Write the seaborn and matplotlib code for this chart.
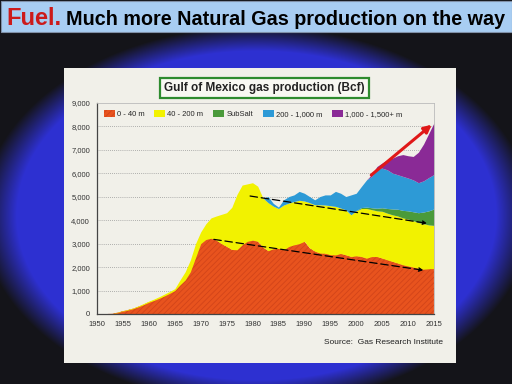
import numpy as np
import matplotlib.pyplot as plt
import seaborn as sns
from matplotlib.patches import Rectangle

# Gulf of Mexico gas production (Bcf) by water depth
years = list(range(1950, 2016))
depth_0_40 = [0, 0, 0, 10, 60, 120, 170, 230, 310, 400,
              500, 580, 670, 770, 880, 1000, 1240, 1450, 1800, 2400,
              3000, 3180, 3230, 3150, 3000, 2880, 2750, 2740, 2950, 3100,
              3150, 3100, 2850, 2700, 2780, 2800, 2740, 2880, 2950, 3000,
              3100, 2820, 2680, 2600, 2590, 2530, 2520, 2580, 2520, 2450,
              2480, 2450, 2380, 2450, 2450, 2380, 2310, 2240, 2170, 2100,
              2050, 2000, 1950, 1910, 1930, 1940]
depth_40_200 = [0, 0, 0, 10, 20, 20, 30, 30, 40, 50,
                50, 60, 70, 80, 80, 80, 210, 350, 500, 600,
                500, 670, 870, 1030, 1250, 1440, 1800, 2360, 2550, 2450,
                2450, 2350, 2100, 2050, 1820, 1700, 1910, 1850, 1850, 1850,
                1720, 1930, 1980, 2060, 2060, 2090, 2070, 1940, 1920, 1780,
                1920, 2050, 2120, 2000, 1950, 2000, 1990, 1990, 2010, 2000,
                2000, 1980, 1950, 1940, 1870, 1840]
subsalt = [0] * 50 + [20, 40, 60, 80, 110, 150, 200, 250, 290, 320,
                      350, 380, 420, 500, 600, 700]
depth_200_1000 = [0] * 33 + [260, 120, 60, 220, 280, 280, 380,
                             330, 260, 210, 350, 430, 460, 640, 630, 570, 850,
                             730, 900, 1160, 1340, 1710, 1690, 1650, 1530, 1470, 1450,
                             1400, 1360, 1280, 1330, 1420, 1470]
depth_1000_1500 = [0] * 53 + [80, 70, 220, 430, 640, 810, 930,
                              950, 1000, 1300, 1570, 1880, 2200]

labels = ['0 - 40 m', '40 - 200 m', 'SubSalt', '200 - 1,000 m', '1,000 - 1,500+ m']
colors = ['#e8531e', '#f2f200', '#4a9a3a', '#2d9ad6', '#8a2a96']

sns.set_style('white')
plt.rcParams['font.family'] = ['Liberation Sans', 'DejaVu Sans']
plt.rcParams['hatch.linewidth'] = 0.6

fig = plt.figure(figsize=(5.12, 3.84), dpi=100)

# slide background: dark with a blue glow, title bar and the chart card
bg = fig.add_axes([0, 0, 1, 1])
bg.set_xlim(0, 512)
bg.set_ylim(384, 0)
bg.axis('off')
yy, xx = np.mgrid[0:384, 0:512]
d = np.sqrt(((xx - 256) / 255.0) ** 2 + ((yy - 215) / 175.0) ** 2)
t = np.clip((1.08 - d) / 0.14, 0, 1)
dark = np.array([0.08, 0.08, 0.10])
blue = np.array([0.18, 0.19, 0.82])
bg.imshow(dark + (blue - dark) * t[..., None], extent=[0, 512, 384, 0], aspect='auto')
bg.add_patch(Rectangle((0.5, 0.5), 511, 31.5, facecolor='#a8cdf2', edgecolor='#8090a8', lw=0.8))
bg.add_patch(Rectangle((64, 68), 392, 295, facecolor='#f1f0e9', edgecolor='none'))
bg.text(6, 25, 'Fuel.', color='#cc1a1a', fontsize=17, fontweight='bold', va='baseline')
bg.text(66, 25, 'Much more Natural Gas production on the way', color='black',
        fontsize=14.2, fontweight='bold', va='baseline')

# the chart itself
ax = fig.add_axes([0.1895, 0.1823, 0.658, 0.5495])
ax.set_facecolor('#f1f0e9')
polys = ax.stackplot(years, depth_0_40, depth_40_200, subsalt, depth_200_1000,
                     depth_1000_1500, labels=labels, colors=colors, lw=0)
polys[0].set_hatch('//////')
polys[0].set_edgecolor('#d2441a')

ax.set_xlim(1950, 2015)
ax.set_ylim(0, 9000)
ax.set_xticks(range(1950, 2016, 5))
ax.set_yticks(range(0, 9001, 1000))
ax.set_yticklabels([f'{v:,}' for v in range(0, 9001, 1000)])
ax.tick_params(labelsize=5.5, colors='#333333', length=3, width=0.8, pad=2)
for y in range(1000, 9000, 1000):
    ax.axhline(y, color='#999999', lw=0.6, ls=(0, (1, 1.5)), zorder=0)
for side in ['left', 'bottom']:
    ax.spines[side].set_color('#444444')
    ax.spines[side].set_linewidth(0.9)
for side in ['top', 'right']:
    ax.spines[side].set_color('#bbbbbb')
    ax.spines[side].set_linewidth(0.6)

ax.legend(ncol=5, loc='upper left', frameon=False, fontsize=5.5, handlelength=1.4,
          handleheight=1.1, columnspacing=1.3, handletextpad=0.3,
          bbox_to_anchor=(0.0, 1.0))

# trend arrows
ax.annotate('', xy=(2015, 8150), xytext=(2002.5, 5850),
            arrowprops=dict(arrowstyle='-|>', color='#e01818', lw=2.2, mutation_scale=11))
ax.annotate('', xy=(2014.2, 3850), xytext=(1979, 5050),
            arrowprops=dict(arrowstyle='-|>', color='black', lw=0.9,
                            linestyle=(0, (6, 3)), mutation_scale=6))
ax.annotate('', xy=(2013.5, 1850), xytext=(1972, 3200),
            arrowprops=dict(arrowstyle='-|>', color='black', lw=0.9,
                            linestyle=(0, (6, 3)), mutation_scale=6))

fig.text(0.516, 0.771, 'Gulf of Mexico gas production (Bcf)', fontsize=8.5,
         fontweight='bold', color='#222222', ha='center', va='center',
         bbox=dict(boxstyle='square,pad=0.35', fc='#f8f8f2', ec='#2e8b2e', lw=1.6))
fig.text(0.865, 0.107, 'Source:  Gas Research Institute', fontsize=6,
         color='#222222', ha='right', va='center')

fig.savefig('out.png', dpi=100)
